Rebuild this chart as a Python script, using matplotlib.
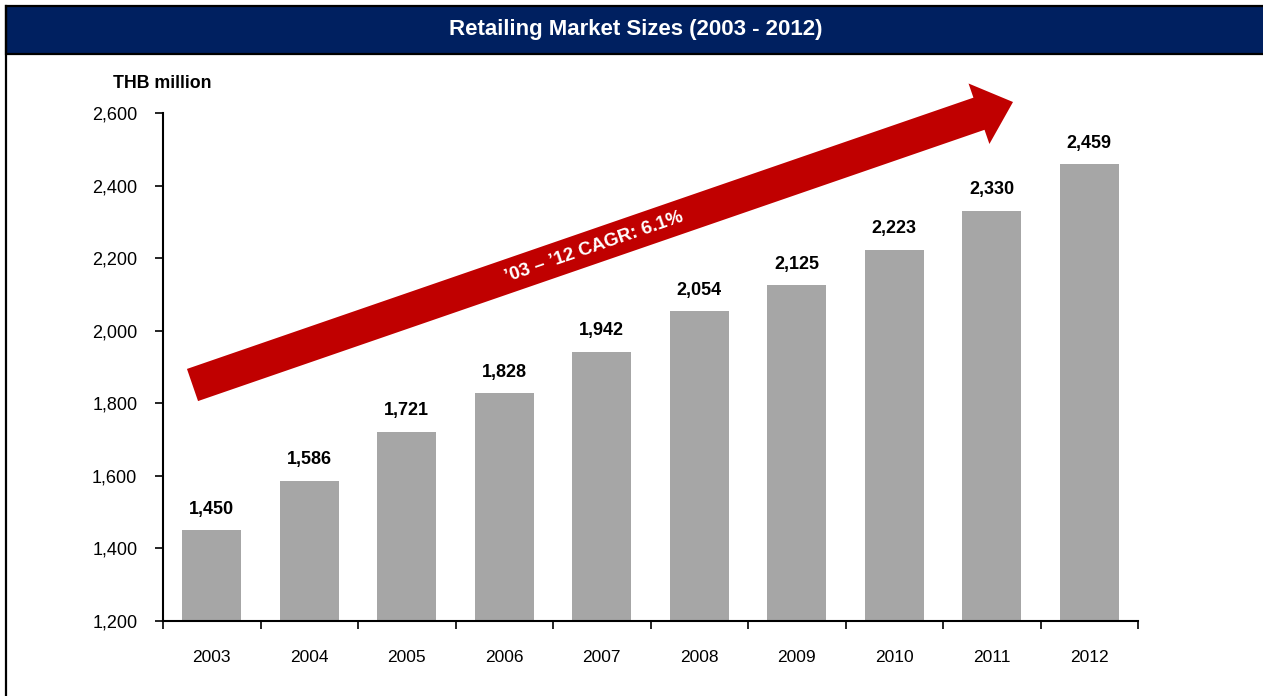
import matplotlib
matplotlib.use('Agg')
import matplotlib.pyplot as plt
from matplotlib.patches import Rectangle, FancyArrow
from matplotlib.ticker import FuncFormatter, MultipleLocator

plt.rcParams['font.family'] = ['Liberation Sans', 'DejaVu Sans']

years = ['2003', '2004', '2005', '2006', '2007', '2008', '2009', '2010', '2011', '2012']
market_size = [1450, 1586, 1721, 1828, 1942, 2054, 2125, 2223, 2330, 2459]
y_ticks = [1200, 1400, 1600, 1800, 2000, 2200, 2400, 2600]

title = 'Retailing Market Sizes (2003 - 2012)'
unit_label = 'THB million'
cagr_label = '\u201903 \u2013 \u201912 CAGR: 6.1%'

navy = '#002060'
bar_grey = '#A6A6A6'
red = '#C00000'

W, H = 1263, 696
fig = plt.figure(figsize=(W / 100, H / 100), dpi=100)

ax = fig.add_axes([163 / W, 75 / H, 975 / W, 508 / H])
x = list(range(len(years)))
ax.bar(x, market_size, width=0.61, color=bar_grey, zorder=2)

for i, v in enumerate(market_size):
    ax.annotate(f'{v:,}', (i, v), xytext=(0, 9), textcoords='offset points',
                ha='center', va='bottom', fontsize=13, fontweight='bold')

ax.set_xlim(-0.5, len(years) - 0.5)
ax.set_ylim(y_ticks[0], y_ticks[-1])
ax.set_yticks(y_ticks)
ax.yaxis.set_major_formatter(FuncFormatter(lambda v, p: f'{int(v):,}'))
ax.set_xticks(x)
ax.set_xticklabels(years)
ax.xaxis.set_minor_locator(MultipleLocator(1, offset=0.5))

ax.tick_params(axis='x', which='major', length=0, pad=21, labelsize=12.5)
ax.tick_params(axis='x', which='minor', length=5.5, width=1.2, direction='out')
ax.tick_params(axis='y', length=5.5, width=1.2, direction='out', pad=13, labelsize=13)

for side in ['top', 'right']:
    ax.spines[side].set_visible(False)
for side in ['left', 'bottom']:
    ax.spines[side].set_linewidth(1.5)
    ax.spines[side].set_color('black')

# overlay in pixel coordinates for the header, frame and trend arrow
ov = fig.add_axes([0, 0, 1, 1], zorder=5)
ov.set_xlim(0, W)
ov.set_ylim(H, 0)
ov.axis('off')
ov.patch.set_visible(False)

ov.add_patch(Rectangle((6, 6), W, 48, facecolor=navy, edgecolor='black', lw=1.6))
ov.plot([6, 6], [6, H], color='black', lw=1.6)
ov.text(636, 30, title, color='white', fontsize=16, fontweight='bold',
        ha='center', va='center')
ov.text(113, 83, unit_label, fontsize=12.8, fontweight='bold', ha='left', va='center')

ov.add_patch(FancyArrow(192.5, 385, 820.5, -283, width=34, head_width=64,
                        head_length=36, length_includes_head=True,
                        facecolor=red, edgecolor='none'))
ov.text(594, 247, cagr_label, color='white', fontsize=13.5, fontweight='bold',
        rotation=19.0, rotation_mode='anchor', ha='center', va='center')

fig.savefig('out.png', dpi=100)
